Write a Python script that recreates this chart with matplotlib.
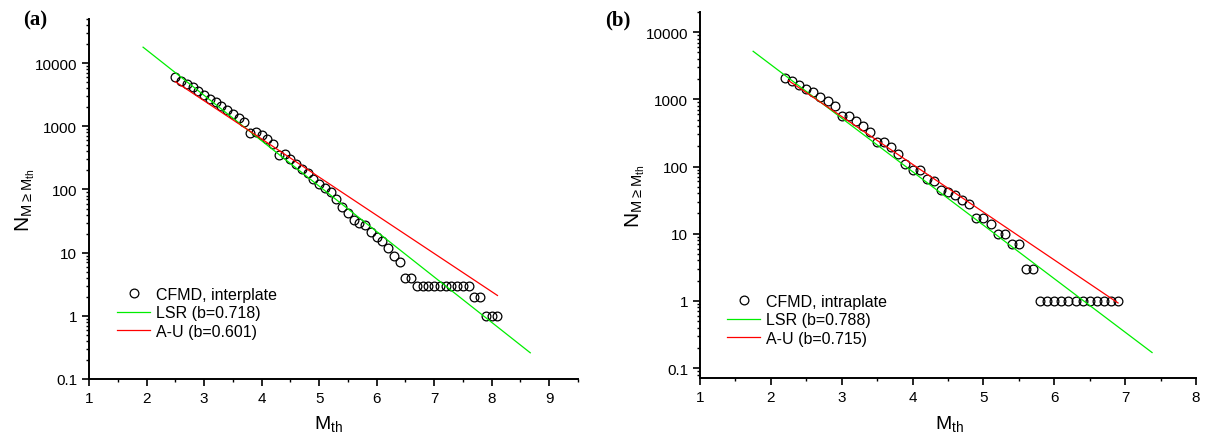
import numpy as np
import matplotlib
matplotlib.use('Agg')
import matplotlib.pyplot as plt
from matplotlib.ticker import FuncFormatter, MultipleLocator, LogLocator

plt.rcParams['font.family'] = ['Liberation Sans', 'DejaVu Sans']
plt.rcParams['mathtext.fontset'] = 'custom'
plt.rcParams['mathtext.rm'] = 'Liberation Sans'

# (a) interplate
m_inter = [2.5, 2.6, 2.7, 2.8, 2.9, 3.0, 3.1, 3.2, 3.3, 3.4, 3.5, 3.6, 3.7, 3.8, 3.9,
           4.0, 4.1, 4.2, 4.3, 4.4, 4.5, 4.6, 4.7, 4.8, 4.9, 5.0, 5.1, 5.2, 5.3, 5.4,
           5.5, 5.6, 5.7, 5.8, 5.9, 6.0, 6.1, 6.2, 6.3, 6.4, 6.5, 6.6, 6.7, 6.8, 6.9,
           7.0, 7.1, 7.2, 7.3, 7.4, 7.5, 7.6, 7.7, 7.8, 7.9, 8.0, 8.1]
n_inter = [6000, 5200, 4650, 4150, 3600, 3100, 2700, 2400, 2100, 1800, 1550, 1340, 1150, 790, 800,
           720, 620, 530, 355, 360, 300, 250, 208, 180, 145, 123, 107, 90, 72, 53,
           43, 33, 29, 27, 21.5, 18, 15.5, 12, 9, 7, 4, 4, 3, 3, 3,
           3, 3, 3, 3, 3, 3, 3, 2, 2, 1, 1, 1]
lsr_inter_m = [1.94, 8.67]
lsr_inter_n = [17900, 0.26]
au_inter_m = [2.5, 8.1]
au_inter_n = [5100, 2.1]

# (b) intraplate
m_intra = [2.2, 2.3, 2.4, 2.5, 2.6, 2.7, 2.8, 2.9, 3.0, 3.1, 3.2, 3.3, 3.4, 3.5, 3.6, 3.7,
           3.8, 3.9, 4.0, 4.1, 4.2, 4.3, 4.4, 4.5, 4.6, 4.7, 4.8, 4.9, 5.0, 5.1, 5.2, 5.3,
           5.4, 5.5, 5.6, 5.7, 5.8, 5.9, 6.0, 6.1, 6.2, 6.3, 6.4, 6.5, 6.6, 6.7, 6.8, 6.9]
n_intra = [2050, 1850, 1620, 1450, 1300, 1100, 930, 800, 560, 560, 470, 400, 330, 230, 230, 195,
           155, 110, 90, 88, 65, 60, 45, 42, 38, 32, 28, 17, 17, 14, 10, 10,
           7, 7, 3, 3, 1, 1, 1, 1, 1, 1, 1, 1, 1, 1, 1, 1]
lsr_intra_m = [1.75, 7.38]
lsr_intra_n = [5200, 0.17]
au_intra_m = [2.25, 6.9]
au_intra_n = [1900, 0.93]

panels = [
  dict(tag='(a)', m=m_inter, n=n_inter, lsr=(lsr_inter_m, lsr_inter_n), au=(au_inter_m, au_inter_n),
       labels=['CFMD, interplate', 'LSR (b=0.718)', 'A-U (b=0.601)'],
       rect=[89/1216, 59/439, 489/1216, 360/439], xlim=(1, 9.5), ylim=(0.1, 5e4),
       leg=(0.057, 0.256), ylab=(-0.106, 0.5), xlab=(0.49, -0.094), tagpos=(23/1216, 1 - 20/439)),
  dict(tag='(b)', m=m_intra, n=n_intra, lsr=(lsr_intra_m, lsr_intra_n), au=(au_intra_m, au_intra_n),
       labels=['CFMD, intraplate', 'LSR (b=0.788)', 'A-U (b=0.715)'],
       rect=[700/1216, 60/439, 496/1216, 366/439], xlim=(1, 8), ylim=(0.071, 2e4),
       leg=(0.054, 0.23), ylab=(-0.107, 0.5), xlab=(0.504, -0.096), tagpos=(605/1216, 1 - 20/439)),
]

fig = plt.figure(figsize=(12.16, 4.39), dpi=100)

for p in panels:
  ax = fig.add_axes(p['rect'])
  ax.plot(p['m'], p['n'], 'o', mfc='none', mec='black', ms=6.3, mew=0.9, label=p['labels'][0])
  ax.plot(p['lsr'][0], p['lsr'][1], color='#00ee00', lw=0.9, label=p['labels'][1])
  ax.plot(p['au'][0], p['au'][1], color='#ff0000', lw=0.9, label=p['labels'][2])
  ax.set_yscale('log')
  ax.set_xlim(*p['xlim'])
  ax.set_ylim(*p['ylim'])
  ax.xaxis.set_major_locator(MultipleLocator(1))
  ax.xaxis.set_minor_locator(MultipleLocator(0.5))
  ax.yaxis.set_major_locator(LogLocator(base=10, numticks=10))
  ax.yaxis.set_minor_locator(LogLocator(base=10, subs=np.arange(2, 10), numticks=20))
  ax.yaxis.set_major_formatter(FuncFormatter(lambda v, pos: '%g' % v))
  for s in ['top', 'right']:
    ax.spines[s].set_visible(False)
  for s in ['left', 'bottom']:
    ax.spines[s].set_linewidth(1.4)
  ax.tick_params(which='major', direction='out', length=5, width=1.2, labelsize=11)
  ax.tick_params(which='minor', direction='out', length=2.5, width=1.0)
  ax.set_ylabel(r'$\mathregular{N_{M\geq M_{th}}}$', fontsize=15)
  ax.yaxis.set_label_coords(*p['ylab'])
  ax.set_xlabel(r'$\mathregular{M_{th}}$', fontsize=14)
  ax.xaxis.set_label_coords(*p['xlab'])
  ax.legend(loc='upper left', bbox_to_anchor=p['leg'], frameon=False, fontsize=11.5,
            borderpad=0, borderaxespad=0, handlelength=2.1, handletextpad=0.35,
            labelspacing=0.22, numpoints=1)
  fig.text(p['tagpos'][0], p['tagpos'][1], p['tag'], fontsize=15, fontweight='bold',
           family=['Liberation Serif', 'DejaVu Serif'], va='center')

fig.savefig('out.png', dpi=100)
